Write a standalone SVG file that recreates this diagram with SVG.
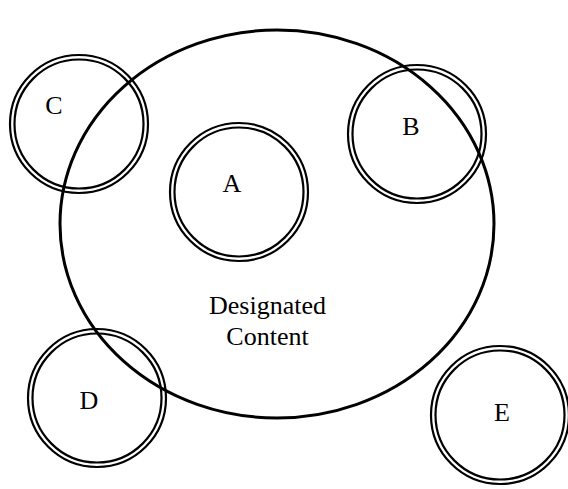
<svg xmlns="http://www.w3.org/2000/svg" width="568" height="489" viewBox="0 0 568 489">
<style>
.o{fill:none;stroke:#000;stroke-width:2.2}
.big{fill:none;stroke:#000;stroke-width:3}
text{font-family:"Liberation Serif","Times New Roman",serif;font-size:26px;fill:#000;text-anchor:middle}
</style>
<defs>
<g id="dc"><circle class="o" r="69"/><circle class="o" r="64.5"/></g>
</defs>
<g id="content"><ellipse class="big" cx="277" cy="224" rx="217" ry="194"/><text x="267.5" y="314">Designated</text><text x="267.5" y="345">Content</text></g>
<g id="A"><use href="#dc" x="239" y="192"/><text x="232" y="192">A</text></g>
<g id="B"><use href="#dc" x="417" y="134"/><text x="411" y="135">B</text></g>
<g id="C"><use href="#dc" x="79" y="124"/><text x="54" y="114">C</text></g>
<g id="D"><use href="#dc" x="97" y="398"/><text x="89" y="409">D</text></g>
<g id="E"><use href="#dc" x="500" y="415"/><text x="502" y="421">E</text></g>
<g id="connectors"></g>
</svg>
